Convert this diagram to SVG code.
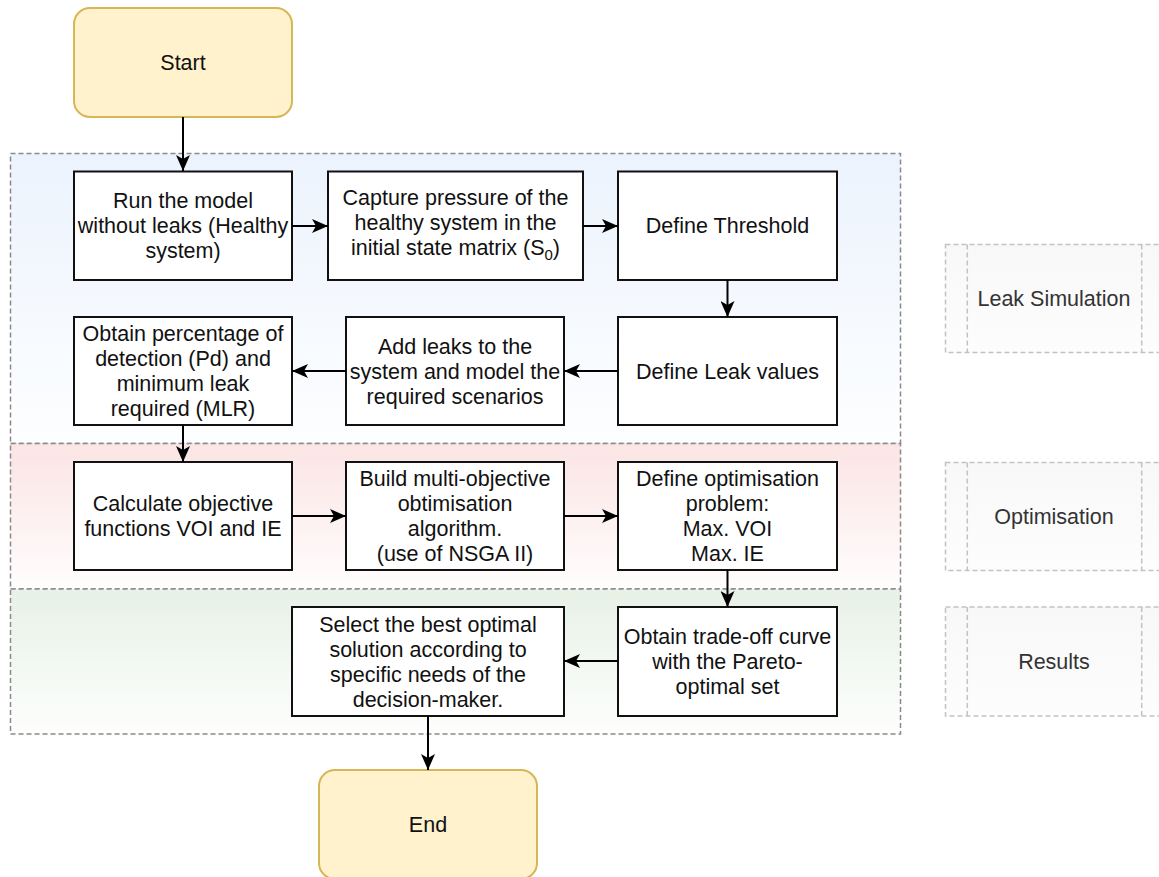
<svg xmlns="http://www.w3.org/2000/svg" width="1159" height="877" viewBox="0 0 1159 877">
<defs>
<style>
text{font-family:"Liberation Sans",Arial,sans-serif;font-size:21.5px;fill:#111;text-anchor:middle}
.box{fill:#fff;stroke:#111;stroke-width:2}
.term{fill:#fff2cc;stroke:#d6b656;stroke-width:2}
.grp{stroke:#8a8a8a;stroke-width:1.5;stroke-dasharray:5 3}
.lbl{fill:url(#gGrey);stroke:#c2c2c2;stroke-width:1.5;stroke-dasharray:5 3}
.lblline{fill:none;stroke:#c2c2c2;stroke-width:1.5;stroke-dasharray:5 3}
.lbltext{fill:#333}
.conn{fill:none;stroke:#000;stroke-width:2;marker-end:url(#arr)}
</style>
<linearGradient id="gBlue" x1="0" y1="0" x2="0" y2="1"><stop offset="0" stop-color="#ecf3fd"/><stop offset="1" stop-color="#fdfeff"/></linearGradient>
<linearGradient id="gRed" x1="0" y1="0" x2="0" y2="1"><stop offset="0" stop-color="#fbe4e4"/><stop offset="1" stop-color="#fffdfd"/></linearGradient>
<linearGradient id="gGreen" x1="0" y1="0" x2="0" y2="1"><stop offset="0" stop-color="#e7f1e6"/><stop offset="1" stop-color="#fdfefd"/></linearGradient>
<linearGradient id="gGrey" x1="0" y1="0" x2="0" y2="1"><stop offset="0" stop-color="#f8f8f8"/><stop offset="1" stop-color="#fdfdfd"/></linearGradient>
<marker id="arr" markerUnits="userSpaceOnUse" viewBox="0 0 16 14" markerWidth="16" markerHeight="14" refX="16" refY="7" orient="auto">
<path d="M0,0 L16,7 L0,14 L4,7 Z" fill="#000"/>
</marker>
</defs>

<g id="group-leak-simulation"><rect class="grp" x="10.5" y="153.5" width="890" height="290" fill="url(#gBlue)"/></g>
<g id="group-optimisation"><rect class="grp" x="10.5" y="443.5" width="890" height="145.5" fill="url(#gRed)"/></g>
<g id="group-results"><rect class="grp" x="10.5" y="589" width="890" height="145" fill="url(#gGreen)"/></g>

<g id="label-leak-simulation">
<rect class="lbl" x="945.5" y="244.5" width="218" height="108"/>
<line class="lblline" x1="967.3" y1="244.5" x2="967.3" y2="352.5"/>
<line class="lblline" x1="1141.7" y1="244.5" x2="1141.7" y2="352.5"/>
<text class="lbltext" x="1054" y="306">Leak Simulation</text>
</g>
<g id="label-optimisation">
<rect class="lbl" x="945.5" y="462.5" width="218" height="108"/>
<line class="lblline" x1="967.3" y1="462.5" x2="967.3" y2="570.5"/>
<line class="lblline" x1="1141.7" y1="462.5" x2="1141.7" y2="570.5"/>
<text class="lbltext" x="1054" y="524">Optimisation</text>
</g>
<g id="label-results">
<rect class="lbl" x="945.5" y="607" width="218" height="109"/>
<line class="lblline" x1="967.3" y1="607" x2="967.3" y2="716"/>
<line class="lblline" x1="1141.7" y1="607" x2="1141.7" y2="716"/>
<text class="lbltext" x="1054" y="669">Results</text>
</g>

<g id="start"><rect class="term" x="74" y="8" width="218" height="109" rx="16"/><text x="183" y="70">Start</text></g>

<g id="run-model"><rect class="box" x="74" y="171.5" width="218" height="108.5"/>
<text x="183" y="208">Run the model</text><text x="183" y="233">without leaks (Healthy</text><text x="183" y="258">system)</text></g>

<g id="capture-pressure"><rect class="box" x="328" y="171.5" width="255" height="108.5"/>
<text x="455.5" y="204.5">Capture pressure of the</text><text x="455.5" y="229.5">healthy system in the</text><text x="455.5" y="254.5">initial state matrix (S<tspan font-size="15" dy="5">0</tspan><tspan dy="-5">)</tspan></text></g>

<g id="define-threshold"><rect class="box" x="618" y="171.5" width="219" height="108.5"/>
<text x="727.5" y="233">Define Threshold</text></g>

<g id="define-leak-values"><rect class="box" x="618" y="317" width="219" height="108"/>
<text x="727.5" y="378.5">Define Leak values</text></g>

<g id="add-leaks"><rect class="box" x="346" y="317" width="218" height="108"/>
<text x="455" y="353.5">Add leaks to the</text><text x="455" y="378.5">system and model the</text><text x="455" y="403.5">required scenarios</text></g>

<g id="obtain-percentage"><rect class="box" x="74" y="317" width="218" height="108"/>
<text x="183" y="341">Obtain percentage of</text><text x="183" y="366">detection (Pd) and</text><text x="183" y="391">minimum leak</text><text x="183" y="416">required (MLR)</text></g>

<g id="calculate-objective"><rect class="box" x="74" y="462" width="218" height="108"/>
<text x="183" y="511">Calculate objective</text><text x="183" y="536">functions VOI and IE</text></g>

<g id="build-algorithm"><rect class="box" x="346" y="462" width="218" height="108"/>
<text x="455" y="486">Build multi-objective</text><text x="455" y="511">obtimisation</text><text x="455" y="536">algorithm.</text><text x="455" y="561">(use of NSGA II)</text></g>

<g id="define-optimisation"><rect class="box" x="618" y="462" width="219" height="108"/>
<text x="727.5" y="486">Define optimisation</text><text x="727.5" y="511">problem:</text><text x="727.5" y="536">Max. VOI</text><text x="727.5" y="561">Max. IE</text></g>

<g id="obtain-tradeoff"><rect class="box" x="618" y="607" width="219" height="109"/>
<text x="727.5" y="644">Obtain trade-off curve</text><text x="727.5" y="669">with the Pareto-</text><text x="727.5" y="694">optimal set</text></g>

<g id="select-solution"><rect class="box" x="292" y="607" width="272" height="109"/>
<text x="428" y="631.5">Select the best optimal</text><text x="428" y="656.5">solution according to</text><text x="428" y="681.5">specific needs of the</text><text x="428" y="706.5">decision-maker.</text></g>

<g id="end"><rect class="term" x="319" y="770" width="218" height="109" rx="16"/><text x="428" y="832">End</text></g>

<g id="connectors">
<line class="conn" x1="183" y1="117" x2="183" y2="171"/>
<line class="conn" x1="292" y1="226" x2="328" y2="226"/>
<line class="conn" x1="583" y1="226" x2="618" y2="226"/>
<line class="conn" x1="727.5" y1="280" x2="727.5" y2="317"/>
<line class="conn" x1="618" y1="371" x2="564" y2="371"/>
<line class="conn" x1="346" y1="371" x2="292" y2="371"/>
<line class="conn" x1="183" y1="425" x2="183" y2="462"/>
<line class="conn" x1="292" y1="516" x2="346" y2="516"/>
<line class="conn" x1="564" y1="516" x2="618" y2="516"/>
<line class="conn" x1="727.5" y1="570" x2="727.5" y2="607"/>
<line class="conn" x1="618" y1="661" x2="564" y2="661"/>
<line class="conn" x1="428" y1="716" x2="428" y2="770"/>
</g>
</svg>
